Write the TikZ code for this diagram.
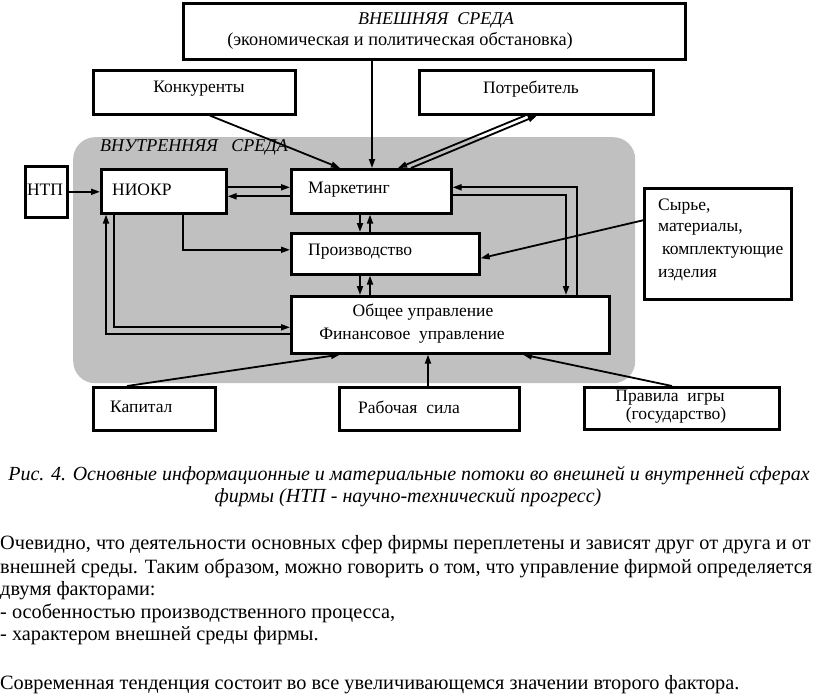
\documentclass[tikz,border=0pt]{standalone}
\usepackage{fontspec}
\setmainfont{Liberation Serif}
\usetikzlibrary{arrows.meta}
\definecolor{innergray}{RGB}{192,192,192}
\begin{document}
\begin{tikzpicture}[x=1pt,y=-1pt,
  box/.style={draw, line width=2.6pt, fill=white, inner sep=0pt, anchor=north west},
  lbl/.style={inner sep=0pt, font=\fontsize{17.5}{19}\selectfont},
  ital/.style={inner sep=0pt, font=\fontsize{18}{20}\selectfont\itshape},
  captxt/.style={inner sep=0pt, font=\fontsize{20}{22}\selectfont\itshape},
  body/.style={inner sep=0pt, anchor=west, font=\fontsize{20.3}{22}\selectfont},
  arr/.style={line width=1.8pt, -{Triangle[length=9pt,width=6pt]}}]
\useasboundingbox (0,0) rectangle (816,696);
\fill[white] (0,0) rectangle (816,696);
% inner environment
\node[fill=innergray, rounded corners=22pt, inner sep=0pt, minimum width=562pt, minimum height=246pt, anchor=north west] (inner) at (73,137) {};
\node[ital, anchor=west] (innerlbl) at (100,147) {ВНУТРЕННЯЯ\ \ \ СРЕДА};
% boxes
\node[box, minimum width=502pt, minimum height=56pt] (ext) at (182,2) {};
\node[box, minimum width=202pt, minimum height=44pt] (kon) at (92,69) {};
\node[box, minimum width=234pt, minimum height=44pt] (potr) at (418,69) {};
\node[box, minimum width=42pt, minimum height=51pt] (ntp) at (24,165) {};
\node[box, minimum width=125pt, minimum height=44pt] (niokr) at (100,168) {};
\node[box, minimum width=160pt, minimum height=44pt] (mk) at (290,168) {};
\node[box, minimum width=188pt, minimum height=41pt] (pr) at (290,232) {};
\node[box, minimum width=318pt, minimum height=57pt] (ou) at (290,295) {};
\node[box, minimum width=147pt, minimum height=111pt] (syr) at (643,187) {};
\node[box, minimum width=122pt, minimum height=43pt] (kap) at (92,386) {};
\node[box, minimum width=180pt, minimum height=43pt] (rab) at (338,386) {};
\node[box, minimum width=195pt, minimum height=42pt] (prav) at (583,386) {};
% labels
\node[ital] (extt) at (436,20) {ВНЕШНЯЯ\ \ СРЕДА};
\node[lbl, font=\fontsize{18.3}{20}\selectfont] (exts) at (400,41) {(экономическая и политическая обстановка)};
\node[lbl] (kont) at (199,89) {Конкуренты};
\node[lbl] (potrt) at (531,89) {Потребитель};
\node[lbl] (ntpt) at (45,190) {НТП};
\node[lbl, anchor=west] (niokrt) at (112,190) {НИОКР};
\node[lbl, anchor=west] (mkt) at (308,190) {Маркетинг};
\node[lbl, anchor=west] (prt) at (308,252) {Производство};
\node[lbl] (out1) at (423,312) {Общее управление};
\node[lbl] (out2) at (412,336) {Финансовое\ \ управление};
\node[lbl, anchor=west] (syr1) at (658,207) {Сырье,};
\node[lbl, anchor=west] (syr2) at (658,229) {материалы,};
\node[lbl, anchor=west] (syr3) at (662,252) {комплектующие};
\node[lbl, anchor=west] (syr4) at (658,275) {изделия};
\node[lbl, anchor=west] (kapt) at (110,407) {Капитал};
\node[lbl, anchor=west] (rabt) at (358,407) {Рабочая\ \ сила};
\node[lbl] (prav1) at (670,398) {Правила\ \ игры};
\node[lbl] (prav2) at (676,415) {(государство)};
% connectors
\draw[arr] ([xshift=190pt]ext.south west) -- ([xshift=82pt]mk.north west);
\draw[arr] ([xshift=118pt]kon.south west) -- ([xshift=50pt]mk.north west);
\draw[arr] ([xshift=107pt]potr.south west) -- ([xshift=108pt]mk.north west);
\draw[arr] ([xshift=121pt]mk.north west) -- ([xshift=119pt]potr.south west);
\draw[arr] (ntp.east) -- (ntp.east -| niokr.west);
\draw[arr] ([yshift=4pt]niokr.east) -- ([yshift=4pt]niokr.east -| mk.west);
\draw[arr] ([yshift=-5pt]mk.west) -- ([yshift=-5pt]mk.west -| niokr.east);
\draw[arr] ([xshift=83pt]niokr.south west) |- ([yshift=4pt]pr.west);
\draw[arr] ([xshift=70pt]mk.south west) -- ([xshift=70pt]pr.north west);
\draw[arr] ([xshift=80pt]pr.north west) -- ([xshift=80pt]mk.south west);
\draw[arr] ([xshift=70pt]pr.south west) -- ([xshift=70pt]ou.north west);
\draw[arr] ([xshift=80pt]ou.north west) -- ([xshift=80pt]pr.south west);
\draw[arr] ([yshift=-9.5pt]ou.west) -| ([xshift=6pt]niokr.south west);
\draw[arr] ([xshift=14pt]niokr.south west) |- ([yshift=-2.5pt]ou.west);
\draw[arr] ([xshift=287pt]ou.north west) |- ([yshift=4pt]mk.east);
\draw[arr] ([yshift=-4pt]mk.east) -| ([xshift=276pt]ou.north west);
\draw[arr] ([yshift=23.5pt]syr.west) -- ([yshift=-4.5pt]pr.east);
\draw[arr] ([xshift=35pt]kap.north west) -- ([xshift=50pt]ou.south west);
\draw[arr] ([xshift=90pt]rab.north west) -- ([xshift=138pt]ou.south west);
\draw[arr] ([xshift=89pt]prav.north west) -- ([xshift=233pt]ou.south west);
% caption
\node[captxt] (cap1) at (409,476) {Рис. 4. Основные информационные и материальные потоки во внешней и внутренней сферах};
\node[captxt] (cap2) at (408,498) {фирмы (НТП - научно-технический прогресс)};
% body text
\node[body] (b1) at (0,545) {Очевидно, что деятельности основных сфер фирмы переплетены и зависят друг от друга и от};
\node[body] (b2) at (0,568) {внешней среды. Таким образом, можно говорить о том, что управление фирмой определяется};
\node[body] (b3) at (0,591) {двумя факторами:};
\node[body] (b4) at (0,613) {- особенностью производственного процесса,};
\node[body] (b5) at (0,636) {- характером внешней среды фирмы.};
\node[body] (b6) at (0,685) {Современная тенденция состоит во все увеличивающемся значении второго фактора.};
\end{tikzpicture}
\end{document}
